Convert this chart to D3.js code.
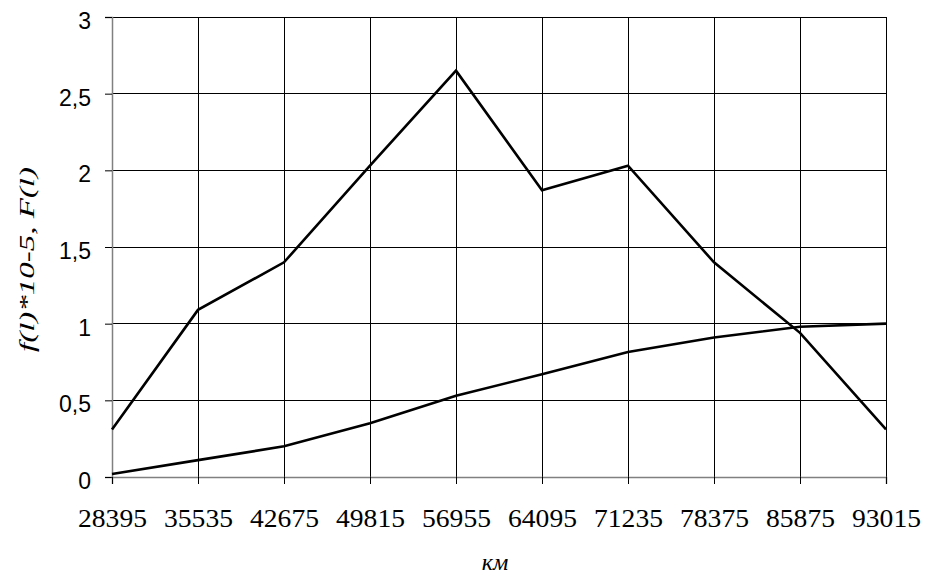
<!DOCTYPE html>
<html><head><meta charset="utf-8">
<script src="https://cdn.jsdelivr.net/npm/d3@7"></script>
<style>body{margin:0;background:#fff}</style>
</head><body>
<svg id="c" width="925" height="577"></svg>
<script>
const categories = ["28395","35535","42675","49815","56955","64095","71235","78375","85875","93015"];
const densityValues = [0.31,1.09,1.40,2.03,2.65,1.87,2.03,1.40,0.94,0.31];
const cumulativeValues = [0.02,0.11,0.20,0.35,0.53,0.67,0.815,0.91,0.98,1.0];
const yTicks = [0,0.5,1,1.5,2,2.5,3];
const xTitle = "км";
const yTitle = "f(l)*10-5, F(l)";

// pick an installed serif font
function available(name){
  const ctx=document.createElement("canvas").getContext("2d");
  const s="28395 fFl()*iWm";
  let ok=true;
  for(const fb of ["monospace","sans-serif"]){
    ctx.font=`40px ${fb}`; const w0=ctx.measureText(s).width;
    ctx.font=`40px "${name}", ${fb}`; const w1=ctx.measureText(s).width;
    if(Math.abs(w0-w1)<0.5) ok=false;
  }
  return ok;
}
const serifCands=["Liberation Serif","Tinos","Times New Roman","Nimbus Roman","FreeSerif","Noto Serif","DejaVu Serif"];
const serifName=serifCands.find(available);
const SERIF = serifName ? `"${serifName}", serif` : "serif";
const SANS = `"Liberation Sans", Arial, Helvetica, sans-serif`;

const svg = d3.select("#c");
const L=112, R=886, T=17, B=477;
const x = d3.scalePoint().domain(categories).range([L,R]);
const y = d3.scaleLinear().domain([0,3]).range([B,T]);

// grid
svg.append("g").selectAll("line").data(yTicks.filter(d=>d>0)).join("line")
  .attr("x1",L).attr("x2",R).attr("y1",d=>y(d)).attr("y2",d=>y(d))
  .attr("stroke","#000").attr("stroke-width",1).attr("shape-rendering","crispEdges");
svg.append("g").selectAll("line").data(categories.slice(1)).join("line")
  .attr("x1",d=>x(d)).attr("x2",d=>x(d)).attr("y1",T).attr("y2",B)
  .attr("stroke","#000").attr("stroke-width",1).attr("shape-rendering","crispEdges");

// axes
const fmt = d=>String(d).replace(".",",");
const ya = svg.append("g").attr("transform",`translate(${L},0)`)
  .call(d3.axisLeft(y).tickValues(yTicks).tickSize(7).tickPadding(14).tickFormat(fmt));
ya.select(".domain").attr("stroke","#808080").attr("stroke-width",1.5);
ya.selectAll(".tick line").attr("stroke","#000");
ya.selectAll("text").style("font-family",SANS).attr("font-size",23)
  .attr("dy","0.5em").attr("fill","#000");

const xa = svg.append("g").attr("transform",`translate(0,${B})`)
  .call(d3.axisBottom(x).tickSize(7));
xa.select(".domain").attr("stroke","#808080").attr("stroke-width",1.5);
xa.selectAll(".tick line").attr("stroke","#000");
xa.selectAll("text").style("font-family",SERIF).attr("font-size",25)
  .attr("textLength",69).attr("lengthAdjust","spacingAndGlyphs")
  .attr("y",50).attr("dy",0).attr("fill","#000");

// lines
const line = d3.line().x((d,i)=>x(categories[i])).y(d=>y(d));
[densityValues,cumulativeValues].forEach(v=>{
  svg.append("path").datum(v).attr("d",line).attr("fill","none")
    .attr("stroke","#000").attr("stroke-width",2.6).attr("stroke-linejoin","miter");
});

// titles
svg.append("text").style("font-family",SERIF).attr("x",495).attr("y",570).attr("text-anchor","middle")
  .attr("font-style","italic").attr("font-size",24).text(xTitle);
svg.append("text").style("font-family",SERIF).attr("transform","translate(34,259.5) rotate(-90)").attr("text-anchor","middle")
  .attr("font-style","italic")
  .attr("font-size",22).attr("textLength",185).attr("lengthAdjust","spacingAndGlyphs").text(yTitle);
</script>
</body></html>
